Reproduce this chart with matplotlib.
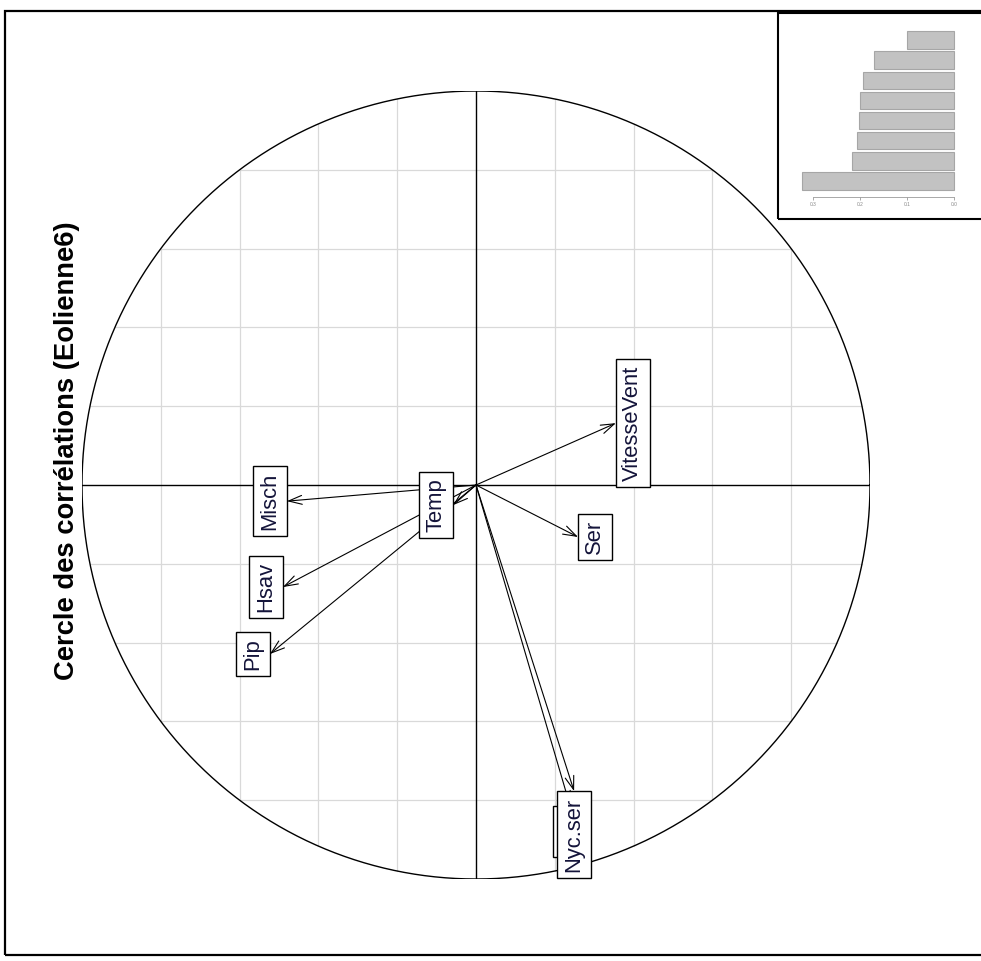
import numpy as np
import matplotlib
matplotlib.use("Agg")
import matplotlib.pyplot as plt
from matplotlib.patches import Rectangle

plt.rcParams['font.family'] = ['Liberation Sans', 'DejaVu Sans']

# Correlations of the variables with the two retained axes
variables = ["VitesseVent", "Ser", "Temp", "Misch", "Hsav", "Pip", "Nyc", "Nyc.ser"]
corr_x = [0.355, 0.259, -0.058, -0.480, -0.490, -0.523, 0.239, 0.249]
corr_y = [0.157, -0.132, -0.051, -0.041, -0.259, -0.429, -0.815, -0.777]

# Eigenvalue inset (largest first)
eigenvalues = [0.323, 0.218, 0.207, 0.203, 0.199, 0.194, 0.171, 0.101]
eig_ticks = [0.0, 0.1, 0.2, 0.3]
eig_ticklabels = ["0.0", "0.1", "0.2", "0.3"]

title = "Cercle des corrélations (Eolienne6)"

W, H = 981, 961
fig = plt.figure(figsize=(W / 100, H / 100), dpi=100)


def fbox(x0, y0, x1, y1):
    """Pixel box (top-left origin) -> figure fraction [l, b, w, h]."""
    return [x0 / W, 1 - y1 / H, (x1 - x0) / W, (y1 - y0) / H]


# Outer frame
fig.patches.append(Rectangle((5 / W, 1 - 955 / H), 1.2, (955 - 11) / H,
                             transform=fig.transFigure, fill=False,
                             ec="black", lw=1.6, zorder=0))

# Main correlation circle
cx, cy, R = 476, 485, 394
ax = fig.add_axes(fbox(cx - R, cy - R, cx + R, cy + R))
ax.set_xlim(-1, 1)
ax.set_ylim(-1, 1)
ax.axis("off")

for g in [-0.8, -0.6, -0.4, -0.2, 0.2, 0.4, 0.6, 0.8]:
    h = np.sqrt(1 - g ** 2)
    ax.plot([g, g], [-h, h], color="#d9d9d9", lw=0.9, zorder=1)
    ax.plot([-h, h], [g, g], color="#d9d9d9", lw=0.9, zorder=1)

ax.plot([-1, 1], [0, 0], color="black", lw=1.0, zorder=2)
ax.plot([0, 0], [-1, 1], color="black", lw=1.0, zorder=2)
t = np.linspace(0, 2 * np.pi, 721)
ax.plot(np.cos(t), np.sin(t), color="black", lw=1.0, zorder=2)

for x, y in zip(corr_x, corr_y):
    ax.annotate("", xy=(x, y), xytext=(0, 0),
                arrowprops=dict(arrowstyle="->,head_length=0.6,head_width=0.2",
                                lw=0.8, color="black", shrinkA=0, shrinkB=0,
                                mutation_scale=16),
                zorder=3)

fs = 15.8
pad_pt = 0.29 * fs
for name, x, y in zip(variables, corr_x, corr_y):
    if abs(x) >= abs(y):
        ha = "left" if x > 0 else "right"
        va = "center"
        off = (pad_pt if x > 0 else -pad_pt, 0)
    else:
        ha = "center"
        va = "bottom" if y > 0 else "top"
        off = (0, pad_pt if y > 0 else -pad_pt)
    ax.annotate(name, xy=(x, y), xytext=off, textcoords="offset points",
                rotation=90, ha=ha, va=va, fontsize=fs, color="#14143a",
                bbox=dict(boxstyle="square,pad=0.29", fc="white",
                          ec="black", lw=1.0),
                zorder=5)

fig.text(67 / W, 1 - 451 / H, title, rotation=90, fontsize=19.7,
         fontweight="bold", ha="center", va="center", color="black")

# Eigenvalue inset
ix0, iy0, ix1, iy1 = 778, 13, 1010, 219
base_px, px_per_unit = 954, 470
bar0_px, bar_step = 181, 20.14
iax = fig.add_axes(fbox(ix0, iy0, ix1, iy1))
iax.set_xlim((base_px - ix0) / px_per_unit, (base_px - ix1) / px_per_unit)
iax.set_ylim((bar0_px - iy1) / bar_step, (bar0_px - iy0) / bar_step)
iax.barh(np.arange(len(eigenvalues)), eigenvalues, height=0.86,
         color="#c2c2c2", edgecolor="#a6a6a6", lw=0.8)
for s in ["top", "right", "left"]:
    iax.spines[s].set_visible(False)
iax.spines["bottom"].set_position(("data", (bar0_px - 197) / bar_step))
iax.spines["bottom"].set_bounds(0, 0.3)
iax.spines["bottom"].set_color("#9a9a9a")
iax.spines["bottom"].set_linewidth(0.6)
iax.set_xticks(eig_ticks)
iax.set_xticklabels(eig_ticklabels)
iax.tick_params(axis="x", length=2, width=0.6, color="#9a9a9a",
                labelsize=3.5, labelcolor="#888888", pad=1.5)
iax.set_yticks([])
iax.patch.set_facecolor("white")
fig.patches.append(Rectangle((ix0 / W, 1 - iy1 / H), 1.0, (iy1 - iy0) / H,
                             transform=fig.transFigure, fill=False,
                             ec="black", lw=1.5, zorder=10))

fig.savefig("out.png", dpi=100)
